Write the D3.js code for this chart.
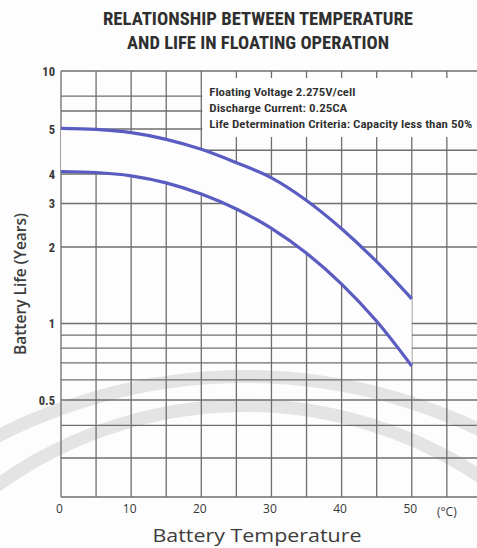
<!DOCTYPE html>
<html>
<head>
<meta charset="utf-8">
<script src="https://cdn.jsdelivr.net/npm/d3@7"></script>
<style>
  html, body { margin: 0; padding: 0; background: #fdfdfd; }
  svg { display: block; }
</style>
</head>
<body>
<svg id="chart" width="477" height="548"></svg>
<script>
// Battery float life versus ambient temperature
const temperatures = [0, 5, 10, 15, 20, 25, 30, 35, 40, 45, 50];
const lifeUpper = [5.04, 4.99, 4.91, 4.75, 4.52, 4.23, 3.85, 3.09, 2.37, 1.75, 1.25];
const lifeLower = [4.05, 4.03, 3.93, 3.67, 3.29, 2.85, 2.38, 1.89, 1.43, 1.02, 0.68];

const yTickValues = [10, 5, 4, 3, 2, 1, 0.5];
const yGridValues = [10, 7.4, 6.2, 5, 4.5, 4, 3, 2, 1, 0.9, 0.8, 0.7, 0.6, 0.5, 0.4, 0.3, 0.2];
const xTickValues = [0, 10, 20, 30, 40, 50];
const xGridValues = [0, 5, 10, 15, 20, 25, 30, 35, 40, 45, 50, 55];

const titleLines = ["RELATIONSHIP BETWEEN TEMPERATURE", "AND LIFE IN FLOATING OPERATION"];
const noteLines = [
  "Floating Voltage 2.275V/cell",
  "Discharge Current: 0.25CA",
  "Life Determination Criteria: Capacity less than 50%"
];

const svg = d3.select("#chart");
const W = 477, H = 548;
const narrow = "'Liberation Sans Narrow', 'Roboto Condensed', 'DejaVu Sans Condensed', 'Open Sans', sans-serif";
const body = "'Open Sans', 'Noto Sans', 'DejaVu Sans', sans-serif";
const ink = "#383838";

const x = d3.scaleLinear().domain([0, 59.3]).range([61, 477]);
// The printed log axis is stretched unevenly between its labelled values
const y = d3.scaleLog()
  .domain([0.2, 0.3, 0.5, 1, 2, 3, 4, 5, 10])
  .range([497, 458, 400, 323.5, 247, 203.5, 174, 129, 71]);

// faint watermark arcs behind the grid
const wm = svg.append("g");
wm.append("path")
  .attr("d", d3.arc()({innerRadius: 536, outerRadius: 549, startAngle: -0.55, endAngle: 0.55}))
  .attr("transform", "translate(245,919)")
  .attr("fill", "#e4e4e4");
wm.append("path")
  .attr("d", d3.arc()({innerRadius: 418, outerRadius: 431, startAngle: -0.68, endAngle: 0.68}))
  .attr("transform", "translate(245,830)")
  .attr("fill", "#e4e4e4");

// grid
const grid = svg.append("g").attr("stroke", "#6e6e6e").attr("stroke-width", 1.3);
grid.selectAll("line.h").data(yGridValues).join("line")
  .attr("class", "h")
  .attr("x1", x.range()[0]).attr("x2", x.range()[1])
  .attr("y1", d => y(d)).attr("y2", d => y(d));
grid.selectAll("line.v").data(xGridValues).join("line")
  .attr("class", "v")
  .attr("x1", d => x(d)).attr("x2", d => x(d))
  .attr("y1", y(10)).attr("y2", y(0.2));

// notes panel
const noteX = x(20) + 1;
svg.append("rect")
  .attr("x", noteX).attr("y", 78)
  .attr("width", W - noteX).attr("height", 59)
  .attr("fill", "#fdfdfd");
const noteWidths = [146, 138, 263];
svg.append("g").selectAll("text").data(noteLines).join("text")
  .attr("x", x(20) + 8)
  .attr("y", (d, i) => 96 + i * 16)
  .attr("font-family", narrow)
  .attr("font-size", 11.5)
  .attr("font-weight", 600)
  .attr("fill", "#2e2e2e")
  .attr("textLength", (d, i) => noteWidths[i])
  .attr("lengthAdjust", "spacingAndGlyphs")
  .text(d => d);

// life band between the two curves
const pts = temperatures.map((t, i) => ({t, hi: lifeUpper[i], lo: lifeLower[i]}));
svg.append("path")
  .datum(pts)
  .attr("fill", "#fdfdfd")
  .attr("d", d3.area()
    .x(d => x(d.t))
    .y0(d => y(d.lo))
    .y1(d => y(d.hi))
    .curve(d3.curveMonotoneX));

const line = key => d3.line()
  .x(d => x(d.t))
  .y(d => y(d[key]))
  .curve(d3.curveMonotoneX);
["hi", "lo"].forEach(k => {
  svg.append("path")
    .datum(pts)
    .attr("fill", "none")
    .attr("stroke", "#5a5cc2")
    .attr("stroke-width", 3.2)
    .attr("d", line(k));
});

// axes
const yAxis = d3.axisLeft(y).tickValues(yTickValues).tickSize(0).tickPadding(0)
  .tickFormat(d => String(d));
const gy = svg.append("g").attr("transform", "translate(55,0)").call(yAxis);
gy.select(".domain").remove();
gy.selectAll("text")
  .attr("font-family", narrow).attr("font-size", 12.5).attr("font-weight", 700)
  .attr("fill", ink);

const xAxis = d3.axisBottom(x).tickValues(xTickValues).tickSize(0).tickPadding(0)
  .tickFormat(d3.format("d"));
const gx = svg.append("g").attr("transform", "translate(-2,504)").call(xAxis);
gx.select(".domain").remove();
gx.selectAll("text")
  .attr("font-family", body).attr("font-size", 12).attr("font-weight", 400)
  .attr("fill", ink);
svg.append("text")
  .attr("x", x(55)).attr("y", 516)
  .attr("text-anchor", "middle")
  .attr("font-family", body).attr("font-size", 12)
  .attr("fill", ink)
  .text("(°C)");

// titles
const titleWidths = [310, 262];
svg.append("g").selectAll("text").data(titleLines).join("text")
  .attr("x", 258)
  .attr("y", (d, i) => 25 + i * 24)
  .attr("text-anchor", "middle")
  .attr("font-family", narrow)
  .attr("font-size", 17.5)
  .attr("font-weight", 700)
  .attr("fill", "#2f2f2f")
  .attr("textLength", (d, i) => titleWidths[i])
  .attr("lengthAdjust", "spacingAndGlyphs")
  .text(d => d);

svg.append("text")
  .attr("transform", "translate(26,284) rotate(-90)")
  .attr("text-anchor", "middle")
  .attr("font-family", body)
  .attr("font-size", 16)
  .attr("font-weight", 600)
  .attr("fill", "#3c3c3c")
  .attr("textLength", 142)
  .attr("lengthAdjust", "spacingAndGlyphs")
  .text("Battery Life (Years)");

svg.append("text")
  .attr("x", 257).attr("y", 542)
  .attr("text-anchor", "middle")
  .attr("font-family", body)
  .attr("font-size", 18.5)
  .attr("font-weight", 500)
  .attr("fill", "#3c3c3c")
  .attr("textLength", 209)
  .attr("lengthAdjust", "spacingAndGlyphs")
  .text("Battery Temperature");
</script>
</body>
</html>
